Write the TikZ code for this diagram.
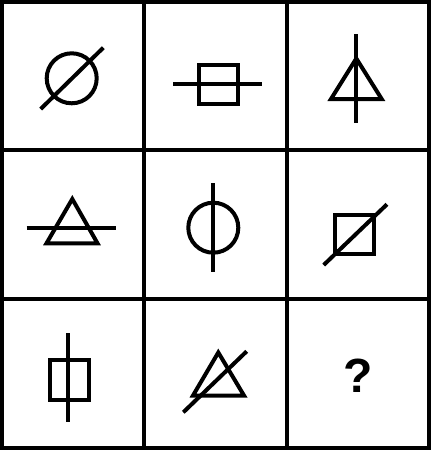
\documentclass[tikz,border=0pt]{standalone}
\usepackage{fontspec}
\setmainfont{Liberation Sans}
\begin{document}
\begin{tikzpicture}[x=1pt,y=-1pt,
  gridline/.style={line width=4pt},
  sym/.style={line width=4pt,miter limit=10}]
\useasboundingbox (0,0) rectangle (431,450);
\fill[white] (0,0) rectangle (431,450);
% grid
\draw[gridline] (1.8,1.8) rectangle (429.2,448.2);
\draw[gridline] (144,0) -- (144,450);
\draw[gridline] (286.5,0) -- (286.5,450);
\draw[gridline] (0,149.5) -- (431,149.5);
\draw[gridline] (0,299) -- (431,299);
% cell 1: circle with slash
\draw[sym] (71.7,78.3) circle (25);
\draw[sym] (40.7,109) -- (103.3,47.7);
% cell 2: rectangle with horizontal line
\draw[sym] (198.5,64.5) rectangle (237.5,104);
\draw[sym] (173.3,84) -- (262.3,84);
% cell 3: triangle with vertical line
\draw[sym] (356.3,58.5) -- (331,99) -- (381.7,99) -- cycle;
\draw[sym] (356.3,34.3) -- (356.3,123.3);
% cell 4: triangle with horizontal line
\draw[sym] (72.3,199) -- (46.5,243.3) -- (97.5,243.3) -- cycle;
\draw[sym] (26.7,228.3) -- (116,228.3);
% cell 5: circle with vertical line
\draw[sym] (213.3,227.7) circle (25);
\draw[sym] (213.3,183.3) -- (213.3,271.7);
% cell 6: square with slash
\draw[sym] (334.8,215) rectangle (373.5,254);
\draw[sym] (323.7,265) -- (387,204.3);
% cell 7: rectangle with vertical line
\draw[sym] (49.5,360) rectangle (89,400);
\draw[sym] (68.3,333) -- (68.3,422.3);
% cell 8: triangle with slash
\draw[sym] (218.3,352.5) -- (193,395.5) -- (244,395.5) -- cycle;
\draw[sym] (183.3,412.3) -- (246.7,351.3);
% cell 9: question mark
\node[font=\bfseries\fontsize{48}{48}\selectfont, inner sep=0pt] (q) at (358,376) {?};
\end{tikzpicture}
\end{document}
